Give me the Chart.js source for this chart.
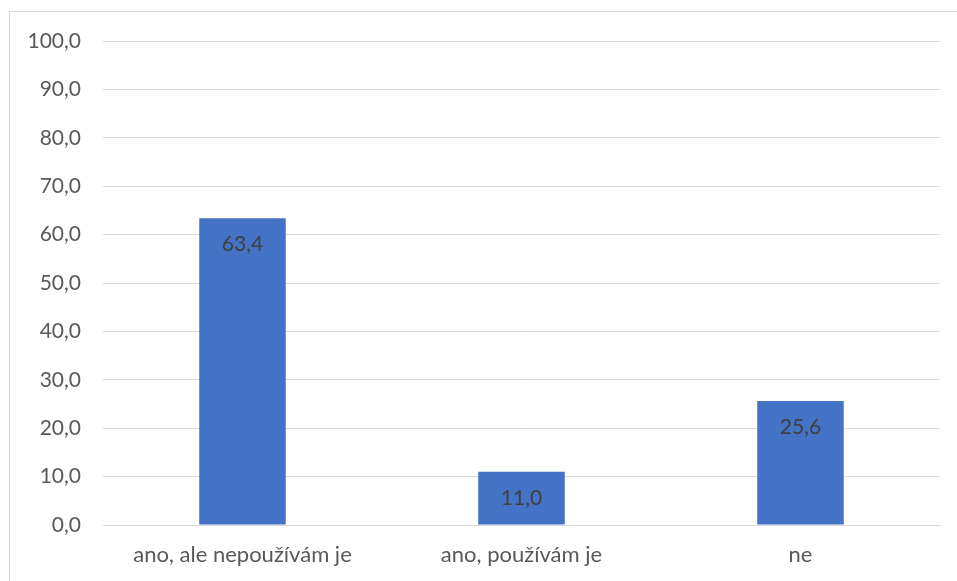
<!DOCTYPE html>
<html>
<head>
<meta charset="utf-8">
<script src="https://cdn.jsdelivr.net/npm/chart.js@4"></script>
<style>
  html, body { margin: 0; padding: 0; background: #fff; }
  #wrap { width: 957px; height: 581px; }
</style>
</head>
<body>
<div id="wrap"><canvas id="myChart" width="957" height="581"></canvas></div>
<script>
const categories = ['ano, ale nepoužívám je', 'ano, používám je', 'ne'];
const values = [63.4, 11.0, 25.6];

const fmt = v => v.toFixed(1).replace('.', ',');

// frame around the chart + value labels inside the top of each bar
const extras = {
    id: 'extras',
    beforeDraw(chart) {
        const ctx = chart.ctx;
        ctx.save();
        ctx.strokeStyle = '#d9d9d9';
        ctx.lineWidth = 1;
        ctx.strokeRect(9.5, 11.5, 1000, 1000);
        ctx.restore();
    },
    afterDatasetsDraw(chart) {
        const ctx = chart.ctx;
        const meta = chart.getDatasetMeta(0);
        ctx.save();
        ctx.font = '21px Lato';
        ctx.fillStyle = '#404040';
        ctx.textAlign = 'center';
        ctx.textBaseline = 'middle';
        meta.data.forEach((bar, i) => {
            ctx.fillText(fmt(values[i]), bar.x, bar.y + 26);
        });
        ctx.restore();
    }
};

new Chart(document.getElementById('myChart'), {
    type: 'bar',
    data: {
        labels: categories,
        datasets: [{
            data: values,
            backgroundColor: '#4472c4',
            barPercentage: 0.62,
            categoryPercentage: 0.5
        }]
    },
    options: {
        responsive: false,
        animation: false,
        layout: { padding: { left: 9, top: 41, right: 17, bottom: 2 } },
        plugins: { legend: { display: false }, tooltip: { enabled: false } },
        scales: {
            y: {
                min: 0, max: 100,
                ticks: { stepSize: 10, padding: 22, color: '#595959', font: { family: 'Lato', size: 21 }, callback: v => fmt(v) },
                grid: { color: '#d9d9d9', drawTicks: false },
                border: { display: false },
                afterFit(scale) { scale.width = 94; }
            },
            x: {
                ticks: { padding: 17, color: '#595959', font: { family: 'Lato', size: 22 } },
                grid: { display: false, drawTicks: false },
                border: { color: '#d9d9d9' },
                afterFit(scale) { scale.height = 54; }
            }
        }
    },
    plugins: [extras]
});
</script>
</body>
</html>
